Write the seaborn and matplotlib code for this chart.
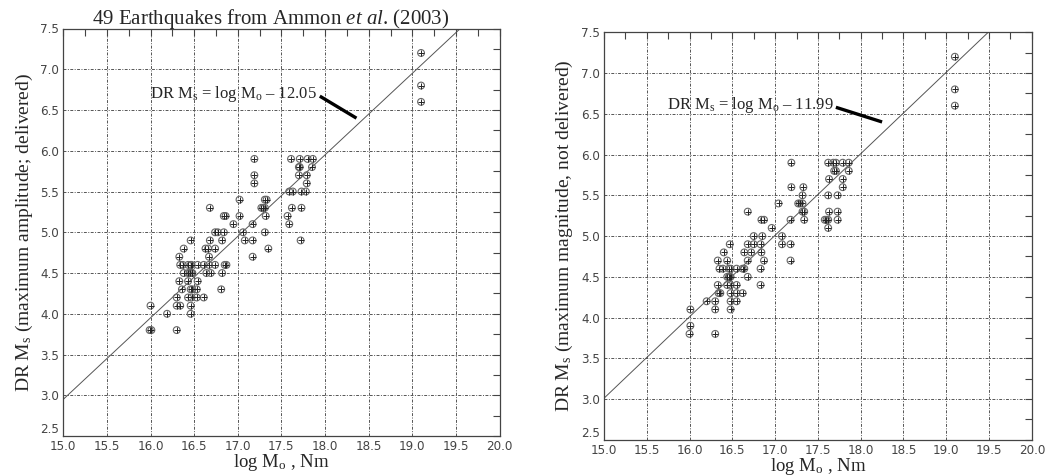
import numpy as np
import pandas as pd
import matplotlib
matplotlib.use("Agg")
import matplotlib.pyplot as plt
import seaborn as sns
from matplotlib.ticker import MultipleLocator

# log Mo (Nm) and DR Ms, one row per magnitude level
left_mo = [17.19, 17.61, 17.71, 17.80, 17.86,
           17.70, 17.71, 17.85,
           17.19, 17.70, 17.79,
           17.19, 17.79,
           17.59, 17.63, 17.73, 17.78,
           17.02, 17.31, 17.33,
           16.68, 17.27, 17.29, 17.31, 17.62, 17.73,
           16.84, 16.86, 17.02, 17.32, 17.57,
           16.95, 17.17, 17.59,
           16.74, 16.77, 16.84, 17.06, 17.31,
           16.46, 16.68, 16.82, 17.08, 17.17, 17.72,
           16.38, 16.63, 16.66, 16.74, 17.35,
           16.33, 16.67, 17.17,
           16.34, 16.37, 16.43, 16.46, 16.47, 16.54, 16.61, 16.67, 16.74, 16.85, 16.87,
           16.38, 16.43, 16.45, 16.47, 16.47, 16.48, 16.64, 16.69, 16.82,
           16.33, 16.43, 16.54,
           16.36, 16.46, 16.48, 16.53, 16.81,
           16.30, 16.43, 16.47, 16.53, 16.61,
           16.00, 16.30, 16.34, 16.46,
           16.19, 16.46,
           15.99, 16.01, 16.30,
           19.10, 19.10, 19.10]
left_ms = [5.9] * 5 + [5.8] * 3 + [5.7] * 3 + [5.6] * 2 + [5.5] * 4 + [5.4] * 3 \
    + [5.3] * 6 + [5.2] * 5 + [5.1] * 3 + [5.0] * 5 + [4.9] * 6 + [4.8] * 5 \
    + [4.7] * 3 + [4.6] * 11 + [4.5] * 9 + [4.4] * 3 + [4.3] * 5 + [4.2] * 5 \
    + [4.1] * 4 + [4.0] * 2 + [3.8] * 3 + [7.2, 6.8, 6.6]

right_mo = [17.19, 17.62, 17.68, 17.71, 17.79, 17.86,
            17.69, 17.71, 17.86,
            17.63, 17.79,
            17.19, 17.33, 17.79,
            17.32, 17.62, 17.73,
            17.04, 17.27, 17.29, 17.32,
            16.68, 17.32, 17.34, 17.63, 17.73,
            16.84, 16.87, 17.18, 17.34, 17.58, 17.60, 17.62, 17.73,
            16.96, 17.62,
            16.75, 16.85, 17.08,
            16.47, 16.68, 16.75, 16.83, 17.08, 17.18,
            16.40, 16.64, 16.72, 16.84,
            16.33, 16.44, 16.68, 16.87, 17.18,
            16.35, 16.39, 16.46, 16.48, 16.55, 16.62, 16.64, 16.83,
            16.44, 16.46, 16.47, 16.48, 16.68,
            16.33, 16.44, 16.48, 16.55, 16.83,
            16.34, 16.36, 16.48, 16.55, 16.62,
            16.20, 16.30, 16.48, 16.55,
            16.01, 16.30, 16.48,
            16.01,
            16.00, 16.30,
            19.10, 19.10, 19.10]
right_ms = [5.9] * 6 + [5.8] * 3 + [5.7] * 2 + [5.6] * 3 + [5.5] * 3 + [5.4] * 4 \
    + [5.3] * 5 + [5.2] * 8 + [5.1] * 2 + [5.0] * 3 + [4.9] * 6 + [4.8] * 4 \
    + [4.7] * 5 + [4.6] * 8 + [4.5] * 5 + [4.4] * 5 + [4.3] * 5 + [4.2] * 4 \
    + [4.1] * 3 + [3.9] + [3.8] * 2 + [7.2, 6.8, 6.6]

# DR Ms = log Mo - c
left_offset = 12.05
right_offset = 11.99

x_ticks = np.arange(15.0, 20.01, 0.5)
y_ticks = np.arange(2.5, 7.51, 0.5)

sns.set_style("white")
plt.rcParams['font.family'] = ['Liberation Serif', 'DejaVu Serif']
plt.rcParams['mathtext.fontset'] = 'custom'
plt.rcParams['mathtext.rm'] = 'Liberation Serif'
plt.rcParams['mathtext.it'] = 'Liberation Serif:italic'

fig = plt.figure(figsize=(10.54, 4.75), dpi=100)
ax_l = fig.add_axes([0.060, 0.082, 0.414, 0.858])
ax_r = fig.add_axes([0.573, 0.074, 0.406, 0.858])


def draw_panel(ax, mo, ms, offset, ylabel, text_end, pointer_end):
    df = pd.DataFrame({'mo': mo, 'ms': ms})
    # fit line across the plot
    line_x = np.array([15.0, 7.5 + offset])
    ax.plot(line_x, line_x - offset, color='#555555', lw=0.7, zorder=2)

    sns.scatterplot(data=df, x='mo', y='ms', ax=ax, marker='o', s=24,
                    facecolor='none', edgecolor='#666666', linewidth=0.8, zorder=3)
    sns.scatterplot(data=df, x='mo', y='ms', ax=ax, marker='+', s=16,
                    color='#222222', linewidth=0.7, zorder=4)

    ax.text(text_end[0], text_end[1],
            r'DR M$_\mathrm{s}$ = log M$_\mathrm{o}$ – %.2f' % offset,
            ha='right', va='center', fontsize=12)
    ax.plot([text_end[0] + 0.03, pointer_end[0]],
            [text_end[1] - 0.03, pointer_end[1]],
            color='black', lw=2.4, solid_capstyle='butt', zorder=5)

    ax.set_xlim(15.0, 20.0)
    ax.set_ylim(2.5, 7.5)
    ax.set_xticks(x_ticks)
    ax.set_yticks(y_ticks)
    ax.xaxis.set_minor_locator(MultipleLocator(0.25))
    ax.yaxis.set_minor_locator(MultipleLocator(0.25))
    ax.set_xticklabels(['%.1f' % v for v in x_ticks])
    ax.set_yticklabels(['%.1f' % v for v in y_ticks])
    for lab in ax.get_xticklabels() + ax.get_yticklabels():
        lab.set_family(['DejaVu Sans'])
        lab.set_stretch('condensed')
        lab.set_fontsize(9.5)
        lab.set_color('#444444')
    ax.get_yticklabels()[0].set_va('bottom')
    ax.tick_params(which='both', direction='in', top=True, right=True,
                   color='#444444', width=0.8)
    ax.tick_params(which='major', length=5, pad=3)
    ax.tick_params(which='minor', length=5)
    ax.grid(True, which='major', color='#555555', lw=0.7,
            linestyle=(0, (3, 1.5, 1, 1.5)))
    for sp in ax.spines.values():
        sp.set_color('#444444')
        sp.set_linewidth(0.9)
    ax.set_xlabel(r'log M$_\mathrm{o}$ , Nm', fontsize=13.5, labelpad=-1)
    ax.set_ylabel(ylabel, fontsize=14, labelpad=4)


draw_panel(ax_l, left_mo, left_ms, left_offset,
           r'DR M$_\mathrm{s}$ (maximum amplitude; delivered)',
           (17.91, 6.70), (18.36, 6.40))
draw_panel(ax_r, right_mo, right_ms, right_offset,
           r'DR M$_\mathrm{s}$ (maximum magnitude, not delivered)',
           (17.68, 6.61), (18.25, 6.40))

ax_l.set_title(r'49 Earthquakes from Ammon $\mathit{et\ al}$. (2003)',
               fontsize=15, pad=3, x=0.475)

fig.savefig('out.png', dpi=100)
